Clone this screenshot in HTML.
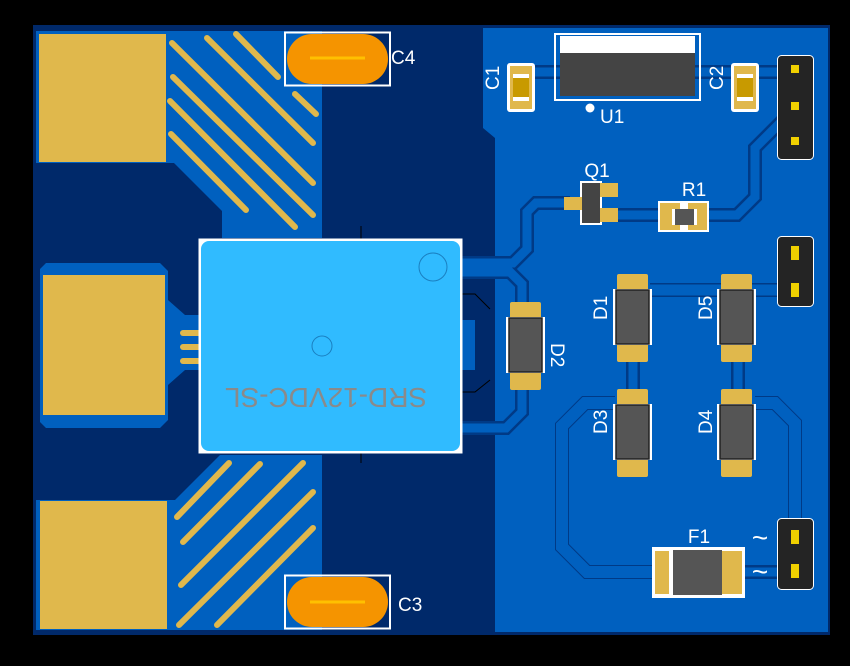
<!DOCTYPE html>
<html><head><meta charset="utf-8"><style>
html,body{margin:0;padding:0;background:#000;}
svg{display:block}
text{font-family:"Liberation Sans",sans-serif;fill:#fff}
</style></head><body>
<svg width="850" height="666" viewBox="0 0 850 666" xmlns="http://www.w3.org/2000/svg">
<rect width="850" height="666" fill="#000"/>
<rect x="33" y="25" width="797" height="610" fill="#00296a"/>
<path d="M483,28 H828 V632 H495 V138 L483,128 Z" fill="#0060bf"/>
<path d="M36,31 H322 V238 H222 V211 L174,163 H36 Z" fill="#0060bf"/>
<path d="M46,263 H160 L168,271 V300 L185,315 H200 V370 H185 L168,385 V420 L160,428 H46 L40,422 V269 Z" fill="#0060bf"/>
<path d="M36,500 H175 L220,455 H322 V630 H36 Z" fill="#0060bf"/>
<rect x="39" y="34" width="127" height="128" fill="#e0b84c"/>
<rect x="43" y="275" width="122" height="140" fill="#e0b84c"/>
<rect x="40" y="501" width="127" height="128" fill="#e0b84c"/>
<g stroke="#e0b84c" stroke-width="6" stroke-linecap="round">
<line x1="172" y1="43" x2="313" y2="183"/>
<line x1="207" y1="38" x2="313" y2="143"/>
<line x1="236" y1="34" x2="278" y2="77"/>
<line x1="295" y1="94" x2="316" y2="114"/>
<line x1="173" y1="77" x2="313" y2="215"/>
<line x1="170" y1="101" x2="295" y2="227"/>
<line x1="171" y1="134" x2="246" y2="210"/>
<line x1="177" y1="517" x2="229" y2="463"/>
<line x1="183" y1="542" x2="260" y2="464"/>
<line x1="181" y1="585" x2="303" y2="463"/>
<line x1="179" y1="625" x2="313" y2="492"/>
<line x1="217" y1="625" x2="313" y2="528"/>
<line x1="183" y1="333" x2="200" y2="333"/>
<line x1="183" y1="347" x2="200" y2="347"/>
<line x1="183" y1="361" x2="200" y2="361"/>
</g>
<g fill="none" stroke-linejoin="miter">
<g stroke="#003a86" stroke-width="14">
<path d="M462,263 H513 L527,249 V212 L536,203 H570"/>
<path d="M462,272 H510 L522,284 V305"/>
<path d="M522,385 V412 L506,428 H462"/>
<path d="M520,72 H790"/>
<path d="M615,215 H705"/><path d="M705,215 H737 L755,197 V148 L785,118"/>
<path d="M650,290 H790"/>
<path d="M633,358 V392"/><path d="M738,358 V392"/>
<path d="M615,403 H585 L562,426 V547 L587,572 H655"/>
<path d="M755,403 H775 L795,423 V540"/>
<path d="M742,572 H785"/>
</g>
<g stroke="#0060bf" stroke-width="9">
<path d="M462,263 H513 L527,249 V212 L536,203 H570"/>
<path d="M462,272 H510 L522,284 V305"/>
<path d="M522,385 V412 L506,428 H462"/>
<path d="M520,72 H790"/>
<path d="M615,215 H705"/><path d="M705,215 H737 L755,197 V148 L785,118"/>
<path d="M650,290 H790" stroke-width="11"/>
<path d="M633,358 V392"/><path d="M738,358 V392"/>
<path d="M615,403 H585 L562,426 V547 L587,572 H655" stroke-width="12"/>
<path d="M755,403 H775 L795,423 V540" stroke-width="12"/>
<path d="M742,572 H785"/>
</g>
</g>
<rect x="462" y="320" width="13" height="50" fill="#0060bf"/>
<rect x="285" y="32.5" width="105" height="53" fill="none" stroke="#fff" stroke-width="2"/>
<rect x="287" y="34" width="101" height="50" rx="25" fill="#f59400"/>
<line x1="310" y1="58" x2="365" y2="58" stroke="#ffc000" stroke-width="3"/>
<text x="391" y="64" font-size="19">C4</text>
<rect x="285" y="575.5" width="105" height="53" fill="none" stroke="#fff" stroke-width="2"/>
<rect x="287" y="577" width="101" height="50" rx="25" fill="#f59400"/>
<line x1="310" y1="602" x2="365" y2="602" stroke="#ffc000" stroke-width="3"/>
<text x="398" y="611" font-size="19">C3</text>
<line x1="361" y1="226" x2="361" y2="240" stroke="#000"/>
<line x1="361" y1="452" x2="361" y2="463" stroke="#000"/>
<path d="M462,294 H475 L490,309 M462,392 H475 L490,380" stroke="#000" fill="none"/>
<rect x="198.5" y="238.5" width="264" height="215" fill="#fff"/>
<rect x="201" y="241" width="259" height="210" rx="8" fill="#30bbff"/>
<circle cx="433" cy="267" r="14" fill="none" stroke="#1a7fc0"/>
<circle cx="322" cy="346" r="10" fill="none" stroke="#1a7fc0"/>
<text x="326" y="368" font-size="28" text-anchor="middle" style="fill:#8a8a8a" transform="rotate(180 326 378)">SRD-12VDC-SL</text>
<rect x="555" y="34" width="145" height="66" fill="none" stroke="#fff" stroke-width="2"/>
<rect x="560" y="36" width="135" height="17" fill="#fff"/>
<rect x="560" y="53" width="135" height="43" fill="#444"/>
<circle cx="590" cy="108" r="4.5" fill="#fff"/>
<text x="600" y="123" font-size="19">U1</text>
<rect x="507" y="63" width="28" height="49" rx="3" fill="#fff"/>
<rect x="510" y="66" width="22" height="43" fill="#e0b84c"/>
<rect x="513" y="74" width="16" height="27" fill="#c89a00"/><rect x="513" y="74" width="16" height="4" fill="#fff"/><rect x="513" y="97" width="16" height="4" fill="#fff"/>
<text x="0" y="0" font-size="19" transform="translate(499,90) rotate(-90)">C1</text>
<rect x="731" y="63" width="28" height="49" rx="3" fill="#fff"/>
<rect x="734" y="66" width="22" height="43" fill="#e0b84c"/>
<rect x="737" y="74" width="16" height="27" fill="#c89a00"/><rect x="737" y="74" width="16" height="4" fill="#fff"/><rect x="737" y="97" width="16" height="4" fill="#fff"/>
<text x="0" y="0" font-size="19" transform="translate(723,90) rotate(-90)">C2</text>
<rect x="777.5" y="55.5" width="36" height="104" rx="4" fill="#242424" stroke="#fff"/>
<rect x="791" y="65" width="8" height="8" fill="#f0d000"/>
<rect x="791" y="102" width="8" height="8" fill="#f0d000"/>
<rect x="791" y="137" width="8" height="8" fill="#f0d000"/>
<rect x="777.5" y="236.5" width="36" height="70" rx="4" fill="#242424" stroke="#fff"/>
<rect x="791" y="246" width="8" height="14" fill="#f0d000"/>
<rect x="791" y="283" width="8" height="14" fill="#f0d000"/>
<rect x="777.5" y="518.5" width="36" height="71" rx="4" fill="#242424" stroke="#fff"/>
<rect x="791" y="530" width="8" height="14" fill="#f0d000"/>
<rect x="791" y="564" width="8" height="14" fill="#f0d000"/>
<rect x="580" y="181" width="22" height="44" fill="#fff"/>
<rect x="600" y="183" width="18" height="14" fill="#e0b84c"/>
<rect x="600" y="208" width="18" height="14" fill="#e0b84c"/>
<rect x="564" y="197" width="18" height="13" fill="#e0b84c"/>
<rect x="582" y="183" width="18" height="40" fill="#444"/>
<text x="597" y="177" font-size="19" text-anchor="middle">Q1</text>
<rect x="658" y="201" width="51" height="31" fill="#fff"/>
<rect x="660" y="203" width="20" height="27" fill="#e0b84c"/>
<rect x="688" y="203" width="19" height="27" fill="#e0b84c"/>
<rect x="672" y="209" width="25" height="16" fill="#555"/>
<rect x="672" y="209" width="3" height="16" fill="#fff"/><rect x="694" y="209" width="3" height="16" fill="#fff"/>
<text x="694" y="196" font-size="19" text-anchor="middle">R1</text>
<g font-size="19">
<g transform="translate(506,301)"><rect x="4" y="1" width="31" height="88" rx="2" fill="#e0b84c"/><rect x="0" y="16" width="39" height="56" fill="#fff"/><rect x="3" y="17" width="33" height="54" fill="#555" stroke="#222" stroke-width="1.5"/></g>
<text x="0" y="0" font-size="19" transform="translate(551,343) rotate(90)">D2</text>
<g transform="translate(613,273)"><rect x="4" y="1" width="31" height="88" rx="2" fill="#e0b84c"/><rect x="0" y="16" width="39" height="56" fill="#fff"/><rect x="3" y="17" width="33" height="54" fill="#555" stroke="#222" stroke-width="1.5"/></g>
<text x="0" y="0" font-size="19" transform="translate(607,320) rotate(-90)">D1</text>
<g transform="translate(717,273)"><rect x="4" y="1" width="31" height="88" rx="2" fill="#e0b84c"/><rect x="0" y="16" width="39" height="56" fill="#fff"/><rect x="3" y="17" width="33" height="54" fill="#555" stroke="#222" stroke-width="1.5"/></g>
<text x="0" y="0" font-size="19" transform="translate(712,320) rotate(-90)">D5</text>
<g transform="translate(613,388)"><rect x="4" y="1" width="31" height="88" rx="2" fill="#e0b84c"/><rect x="0" y="16" width="39" height="56" fill="#fff"/><rect x="3" y="17" width="33" height="54" fill="#555" stroke="#222" stroke-width="1.5"/></g>
<text x="0" y="0" font-size="19" transform="translate(607,434) rotate(-90)">D3</text>
<g transform="translate(717,388)"><rect x="4" y="1" width="31" height="88" rx="2" fill="#e0b84c"/><rect x="0" y="16" width="39" height="56" fill="#fff"/><rect x="3" y="17" width="33" height="54" fill="#555" stroke="#222" stroke-width="1.5"/></g>
<text x="0" y="0" font-size="19" transform="translate(712,434) rotate(-90)">D4</text>
</g>
<rect x="652" y="547" width="93" height="51" fill="#fff"/>
<rect x="655" y="551" width="14" height="43" fill="#e0b84c"/>
<rect x="722" y="551" width="20" height="43" fill="#e0b84c"/>
<rect x="673" y="550" width="49" height="45" fill="#555"/>
<text x="699" y="543" font-size="19" text-anchor="middle">F1</text>
<text x="760" y="547" font-size="28" text-anchor="middle">~</text>
<text x="760" y="581" font-size="28" text-anchor="middle">~</text>
</svg>
</body></html>
